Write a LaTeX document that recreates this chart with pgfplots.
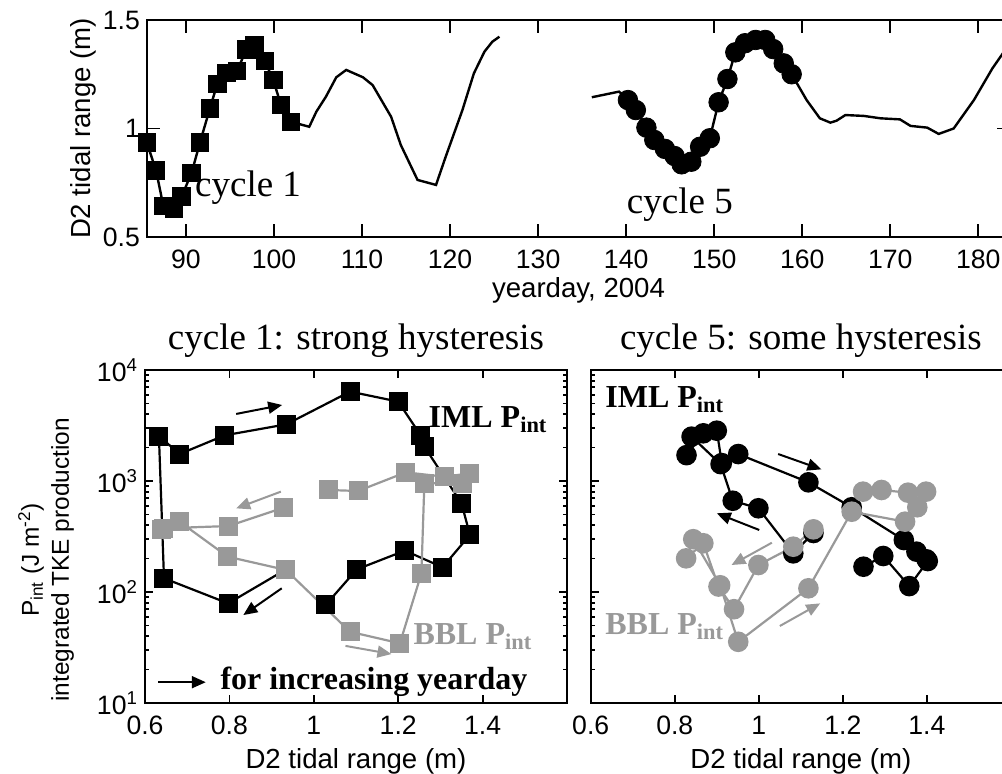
\documentclass[border=0pt]{standalone}
\usepackage{fontspec}
\setmainfont{Liberation Sans}
\newfontfamily\tnr{Liberation Serif}
\usepackage{pgfplots}
\pgfplotsset{compat=1.18}
\usetikzlibrary{arrows.meta}
\definecolor{bblgray}{gray}{0.6}
\pgfplotsset{
  myax/.style={
    scale only axis, anchor=south west, clip=false,
    axis line style={line width=1.2pt},
    tick style={line width=0.9pt, black},
    tick align=inside,
    /pgf/number format/assume math mode=true,
    tick label style={font=\fontsize{13.3}{15}\selectfont},
    xticklabel style={yshift=-3pt},
    label style={font=\fontsize{13.8}{16}\selectfont},
  },
}
\tikzset{
  blkarr/.style={line width=1pt, black, -{Triangle[length=7pt,width=6pt]}},
  gryarr/.style={line width=1pt, bblgray, -{Triangle[length=7pt,width=6pt]}},
  lab/.style={font=\tnr\bfseries\fontsize{16}{18}\selectfont, inner sep=0pt},
  cyc/.style={font=\tnr\fontsize{18.5}{20}\selectfont, inner sep=0pt},
}
\begin{document}
\begin{tikzpicture}
% ---------------- top panel ----------------
\begin{axis}[myax,
  at={(73.5pt,268pt)}, width=431.5pt, height=108.5pt,
  xmin=85.57, xmax=183.6, ymin=0.5, ymax=1.5,
  xtick={90,100,110,120,130,140,150,160,170,180},
  ytick={0.5,1,1.5},
  major tick length=6.5pt,
  xlabel={yearday, 2004},
  xlabel style={yshift=2.5pt},
  ylabel={D2 tidal range (m)},
  ylabel style={at={(axis description cs:-0.074,0.5)}, anchor=center},
]
\addplot[black, line width=1.2pt, mark=none] coordinates {
(85.55,0.935) (86.6,0.806) (87.43,0.643) (88.64,0.632) (89.5,0.686) (90.64,0.796)
(91.59,0.936) (92.72,1.093) (93.55,1.205) (94.6,1.257) (95.8,1.266) (96.87,1.365)
(97.8,1.382) (98.95,1.312) (99.9,1.224) (100.8,1.108) (101.9,1.031) (104.0,1.008)
(104.8,1.077) (105.9,1.147) (107.07,1.236) (108.2,1.27) (110.1,1.236) (111.2,1.2)
(113.3,1.054) (114.4,0.924) (116.3,0.763) (118.4,0.74) (119.5,0.87) (121.4,1.085)
(122.7,1.254) (123.9,1.354) (124.8,1.40) (125.6,1.423)
};
\addplot[only marks, mark=square*, mark size=4.4pt, black] coordinates {
(85.55,0.935) (86.6,0.806) (87.43,0.643) (88.64,0.632) (89.5,0.686) (90.64,0.796)
(91.59,0.936) (92.72,1.093) (93.55,1.205) (94.6,1.257) (95.8,1.266) (96.87,1.365)
(97.8,1.382) (98.95,1.312) (99.9,1.224) (100.8,1.108) (101.9,1.031)
};
\addplot[black, line width=1.2pt, mark=none] coordinates {
(136.1,1.144) (139.2,1.17) (140.2,1.131) (141.1,1.085) (142.3,1.004) (143.2,0.947)
(144.4,0.906) (145.5,0.873) (146.3,0.835) (147.4,0.847) (148.4,0.916) (149.5,0.955)
(150.5,1.121) (151.5,1.228) (152.4,1.351) (153.5,1.393) (154.7,1.408) (155.8,1.408)
(156.7,1.366) (157.9,1.30) (158.8,1.25) (160.5,1.131) (162.0,1.047) (163.2,1.027)
(163.9,1.036) (164.9,1.062) (167.0,1.058) (168.9,1.047) (171.1,1.042) (172.3,1.012)
(174.2,1.004) (175.5,0.975) (177.2,1.0) (179.5,1.131) (181.6,1.277) (182.8,1.347)
(183.5,1.39)
};
\addplot[only marks, mark=*, mark size=4.9pt, black] coordinates {
(140.2,1.131) (141.1,1.085) (142.3,1.004) (143.2,0.947)
(144.4,0.906) (145.5,0.873) (146.3,0.835) (147.4,0.847) (148.4,0.916) (149.5,0.955)
(150.5,1.121) (151.5,1.228) (152.4,1.351) (153.5,1.393) (154.7,1.408) (155.8,1.408)
(156.7,1.366) (157.9,1.30) (158.8,1.25)
};
\node[cyc] at (axis cs:97.05,0.726) {cycle 1};
\node[cyc] at (axis cs:146.1,0.647) {cycle 5};
\end{axis}
% ---------------- bottom left ----------------
\begin{axis}[myax,
  at={(72.5pt,35pt)}, width=211pt, height=166.5pt,
  xmin=0.6, xmax=1.6, ymode=log, ymin=10, ymax=10000,
  xtick={0.6,0.8,1,1.2,1.4},
  ytick={10,100,1000,10000},
  yticklabels={10\textsuperscript{1},10\textsuperscript{2},10\textsuperscript{3},10\textsuperscript{4}},
  major tick length=4pt, minor tick length=2pt,
  title={cycle 1: strong hysteresis},
  title style={font=\tnr\fontsize{18.5}{20}\selectfont, yshift=-3.5pt},
  xlabel={D2 tidal range (m)},
  ylabel={P\textsubscript{int} (J m\textsuperscript{-2})\\integrated TKE production},
  ylabel style={align=center, font=\fontsize{12.2}{15}\selectfont,
     at={(axis description cs:-0.2346,0.43)}, anchor=center},
]
\addplot[black, line width=1.1pt, mark=square*, mark size=4.2pt] coordinates {
(0.932,158) (0.797,79) (0.645,133) (0.633,2540) (0.682,1750) (0.789,2580)
(0.935,3240) (1.086,6390) (1.200,5190) (1.253,2590) (1.262,2040) (1.350,630)
(1.370,327) (1.305,167) (1.216,236) (1.102,160) (1.028,76.5)
};
\addplot[bblgray, line width=1.1pt, mark=square*, mark size=4.2pt] coordinates {
(0.929,576) (0.798,393) (0.645,375) (0.638,365) (0.682,430) (0.796,208)
(0.934,158) (1.086,43.8) (1.204,34.5) (1.255,147) (1.262,953) (1.352,953)
(1.370,1171) (1.309,1093) (1.218,1197) (1.105,813) (1.034,830)
};
\draw[blkarr] (axis cs:0.816,4020) -- (axis cs:0.925,4840);
\draw[gryarr] (axis cs:0.922,802) -- (axis cs:0.816,567);
\draw[blkarr] (axis cs:0.924,108) -- (axis cs:0.833,62);
\draw[gryarr] (axis cs:1.075,32.7) -- (axis cs:1.184,27.6);
\draw[blkarr] (axis cs:0.631,15.4) -- (axis cs:0.744,15.4);
\node[lab] at (axis cs:1.413,3545) {IML P\textsubscript{int}};
\node[lab, text=bblgray] at (axis cs:1.377,39.4) {BBL P\textsubscript{int}};
\node[lab, anchor=west] at (axis cs:0.778,15.4) {for increasing yearday};
\end{axis}
% ---------------- bottom right ----------------
\begin{axis}[myax,
  at={(295.35pt,35pt)}, width=210.15pt, height=166.5pt,
  xmin=0.6, xmax=1.6, ymode=log, ymin=10, ymax=10000,
  xtick={0.6,0.8,1,1.2,1.4},
  ytick={10,100,1000,10000}, yticklabels={},
  major tick length=4pt, minor tick length=2pt,
  title={cycle 5: some hysteresis},
  title style={font=\tnr\fontsize{18.5}{20}\selectfont, yshift=-3.5pt},
  xlabel={D2 tidal range (m)},
]
\addplot[black, line width=1.1pt, mark=*, mark size=4.6pt] coordinates {
(1.130,340) (1.082,223) (0.999,568) (0.938,664) (0.909,1420) (0.840,2510)
(0.828,1710) (0.868,2690) (0.900,2840) (0.912,1450) (0.951,1750) (1.118,973)
(1.221,580) (1.345,294) (1.375,231) (1.399,197) (1.402,190) (1.358,113)
(1.296,211) (1.249,169)
};
\addplot[bblgray, line width=1.1pt, mark=*, mark size=4.6pt] coordinates {
(1.130,367) (1.082,256) (0.999,175) (0.941,70) (0.904,112) (0.868,275)
(0.827,201) (0.844,299) (0.908,115) (0.951,35.6) (1.118,108) (1.221,529)
(1.348,430) (1.377,580) (1.398,802) (1.355,785) (1.292,830) (1.248,802)
};
\draw[blkarr] (axis cs:1.046,1750) -- (axis cs:1.149,1273);
\draw[blkarr] (axis cs:1.001,362) -- (axis cs:0.900,512);
\draw[gryarr] (axis cs:1.031,278) -- (axis cs:0.935,175);
\draw[gryarr] (axis cs:1.050,49.4) -- (axis cs:1.146,79);
\node[lab, anchor=west] at (axis cs:0.634,5370) {IML P\textsubscript{int}};
\node[lab, anchor=west, text=bblgray] at (axis cs:0.634,48.4) {BBL P\textsubscript{int}};
\end{axis}
\pgfresetboundingbox
\useasboundingbox (0pt,0pt) rectangle (501pt,386.5pt);
\end{tikzpicture}
\end{document}
